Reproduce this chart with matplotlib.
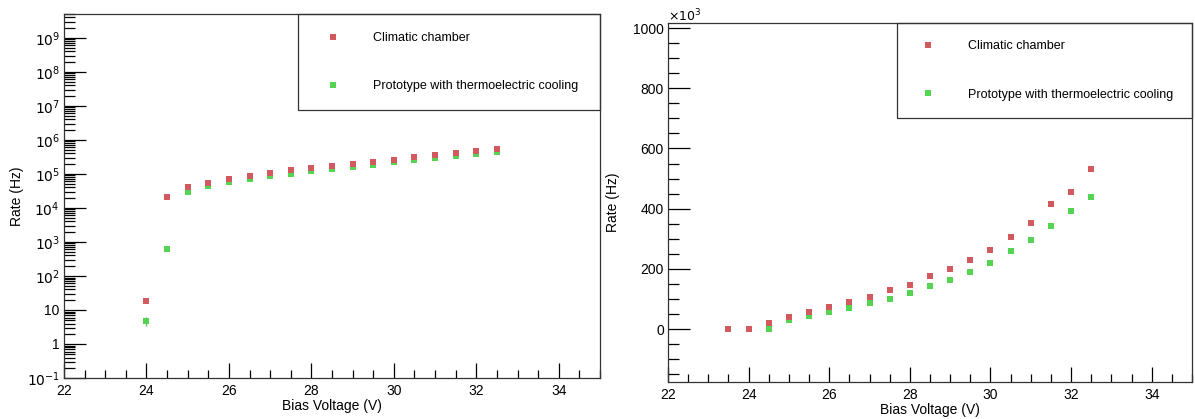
import matplotlib.pyplot as plt
from matplotlib.patches import Rectangle
from matplotlib.lines import Line2D
from matplotlib.ticker import MultipleLocator, LogLocator, NullFormatter
import numpy as np

plt.rcParams["font.family"] = ["Liberation Sans", "DejaVu Sans"]

# bias voltage (V)
voltage_red = [23.5, 24.0, 24.5, 25.0, 25.5, 26.0, 26.5, 27.0, 27.5, 28.0,
               28.5, 29.0, 29.5, 30.0, 30.5, 31.0, 31.5, 32.0, 32.5]
# climatic chamber rate (Hz)
rate_red = [0.0, 18, 21000, 41000, 55000, 72000, 89000, 107000, 130000, 148000,
            176000, 198000, 229000, 261000, 305000, 352000, 415000, 456000, 532000]

voltage_green = [24.0, 24.5, 25.0, 25.5, 26.0, 26.5, 27.0, 27.5, 28.0, 28.5,
                 29.0, 29.5, 30.0, 30.5, 31.0, 31.5, 32.0, 32.5]
# prototype with thermoelectric cooling rate (Hz)
rate_green = [4.9, 640, 30000, 43000, 56000, 70000, 85000, 101000, 121000, 142000,
              164000, 188000, 220000, 258000, 296000, 342000, 393000, 440000]
err_green = [1.5, 20, 200, 200, 200, 200, 200, 200, 200, 200,
             200, 200, 200, 200, 200, 200, 200, 200]

labels = ["Climatic chamber", "Prototype with thermoelectric cooling"]
red = "#d2595d"
green = "#55d352"

W, H = 1195, 419
fig = plt.figure(figsize=(W / 100, H / 100), dpi=100)
ax1 = fig.add_axes([64 / W, (H - 378) / H, (600 - 64) / W, (378 - 14) / H])
ax2 = fig.add_axes([668 / W, (H - 382) / H, (1192 - 668) / W, (382 - 23) / H])

mk = dict(marker="s", ms=4.6, mew=0, ls="none")


def style(ax):
    for s in ax.spines.values():
        s.set_linewidth(0.9)
        s.set_color("#333333")
    ax.tick_params(which="both", direction="in", top=False, right=False,
                   labelsize=10, colors="black", width=0.9)
    ax.tick_params(axis="x", which="major", length=11, pad=4)
    ax.tick_params(axis="x", which="minor", length=6)
    ax.tick_params(axis="y", which="major", length=16, pad=3)
    ax.tick_params(axis="y", which="minor", length=8)
    ax.set_xlim(22, 35)
    ax.xaxis.set_major_locator(MultipleLocator(2))
    ax.xaxis.set_minor_locator(MultipleLocator(0.5))
    ax.set_xlabel("Bias Voltage (V)", fontsize=10, labelpad=1)
    ax.set_ylabel("Rate (Hz)", fontsize=10)


def legend_box(ax, y0):
    ax.add_patch(Rectangle((0.437, y0), 1 - 0.437, 1 - y0, transform=ax.transAxes,
                           fill=False, lw=0.9, ec="#333333", clip_on=False, zorder=5))
    handles = [Line2D([], [], color=red, **mk), Line2D([], [], color=green, **mk)]
    ax.legend(handles, labels, loc="center", frameon=False, fontsize=9,
              bbox_to_anchor=(0.437, y0, 1 - 0.437, 1 - y0),
              bbox_transform=ax.transAxes, labelspacing=2.9,
              handlelength=2, handletextpad=2.2, borderpad=0, numpoints=1)


# left: log scale
vr = np.array(voltage_red)
rr = np.array(rate_red)
pos = rr > 0
ax1.plot(vr[pos], rr[pos], color=red, zorder=3, **mk)
ax1.errorbar(voltage_green, rate_green, yerr=err_green, color=green, capsize=2.5,
             elinewidth=1, capthick=1, zorder=2, **mk)
ax1.set_yscale("log")
ax1.set_ylim(0.1, 10 ** 9.7)
ax1.yaxis.set_minor_locator(LogLocator(base=10, subs=np.arange(2, 10), numticks=20))
ax1.yaxis.set_minor_formatter(NullFormatter())
ax1.set_yticks([10.0 ** k for k in range(-1, 10)])
ax1.set_yticklabels([r"$10^{-1}$", "1", "10", r"$10^{2}$", r"$10^{3}$", r"$10^{4}$",
                     r"$10^{5}$", r"$10^{6}$", r"$10^{7}$", r"$10^{8}$", r"$10^{9}$"])
style(ax1)
ax1.yaxis.set_label_coords(-0.075, 0.5)
legend_box(ax1, 0.736)

# right: linear scale in units of 10^3
ax2.plot(voltage_green, np.array(rate_green) / 1e3, color=green, zorder=2, **mk)
ax2.plot(voltage_red, np.array(rate_red) / 1e3, color=red, zorder=3, **mk)
ax2.set_ylim(-176, 1017)
ax2.yaxis.set_major_locator(MultipleLocator(200))
ax2.yaxis.set_minor_locator(MultipleLocator(50))
style(ax2)
ax2.yaxis.set_label_coords(-0.092, 0.5)
ax2.text(0.0, 0.995, r"$\times10^{3}$", transform=ax2.transAxes, fontsize=9,
         ha="left", va="bottom")
legend_box(ax2, 0.735)

fig.savefig("out.png", dpi=100)
